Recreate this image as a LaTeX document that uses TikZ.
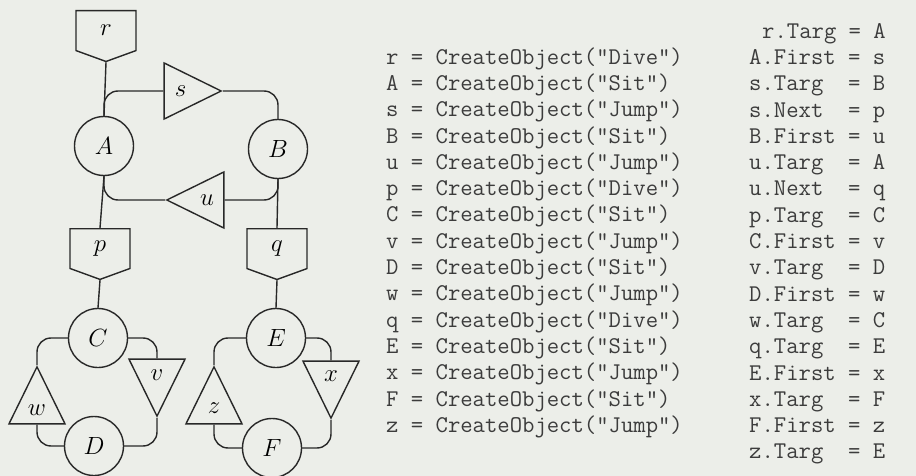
\documentclass[tikz,border=0pt]{standalone}
\usetikzlibrary{shapes.geometric, shapes.symbols}
\definecolor{paper}{RGB}{236,238,233}
\definecolor{ink}{RGB}{40,40,40}
\definecolor{codegray}{RGB}{60,60,60}

\begin{document}
\begin{tikzpicture}[
    x=1pt, y=-1pt,
    every node/.style={font=\fontsize{25}{30}\selectfont},
    obj/.style={circle, draw=ink, line width=1.4pt, minimum size=59pt, inner sep=0pt},
    dive/.style={signal, signal to=south, signal from=nowhere, signal pointer angle=140, draw=ink, line width=1.4pt, minimum width=60pt, minimum height=42pt, inner sep=0pt},
    jump/.style={isosceles triangle, isosceles triangle stretches, draw=ink, line width=1.4pt, minimum width=56pt, minimum height=57pt, inner sep=0pt},
    code/.style={font=\ttfamily\fontsize{24}{28}\selectfont, text=codegray, anchor=mid west, inner sep=0pt},
    link/.style={draw=ink, line width=1.4pt, rounded corners=14pt}
]
\path[use as bounding box, fill=paper] (0,0) rectangle (916,476);

% --- Dive objects ---
\node[dive, anchor=north] (r) at (106,10) {$r$};
\node[dive, anchor=north] (p) at (100,228) {$p$};
\node[dive, anchor=north] (q) at (277,228) {$q$};

% --- Sit objects ---
\node[obj] (A) at (104,146) {$A$};
\node[obj] (B) at (278,149) {$B$};
\node[obj] (C) at (98,338) {$C$};
\node[obj] (D) at (94,446) {$D$};
\node[obj] (E) at (276,338) {$E$};
\node[obj] (F) at (272,448) {$F$};

% --- Jump objects ---
\node[jump, anchor=apex] (s) at (223,91) {$s$};
\node[jump, shape border rotate=180, anchor=apex] (u) at (165,200) {$u$};
\node[jump, shape border rotate=270, anchor=apex] (v) at (157,418) {$v$};
\node[jump, shape border rotate=90, anchor=apex] (w) at (37,365) {$w$};
\node[jump, shape border rotate=90, anchor=apex] (z) at (214,365) {$z$};
\node[jump, shape border rotate=270, anchor=apex] (x) at (331,420) {$x$};

% --- Links ---
\draw[link] (r.south) -- (A.north);
\draw[link] (A.north) |- (s.lower side);
\draw[link] (s.apex) -| (B.north);
\draw[link] (A.south) |- (u.apex);
\draw[link] (u.lower side) -| (B.south);
\draw[link] (A.south) -- (p.north);
\draw[link] (B.south) -- (q.north);
\draw[link] (p.south) -- (C.north);
\draw[link] (q.south) -- (E.north);
\draw[link] (C.east) -| (v.lower side);
\draw[link] (v.apex) |- (D.east);
\draw[link] (D.west) -| (w.lower side);
\draw[link] (w.apex) |- (C.west);
\draw[link] (E.west) -| (z.apex);
\draw[link] (z.lower side) |- (F.west);
\draw[link] (F.east) -| (x.apex);
\draw[link] (E.east) -| (x.lower side);

% --- Code: creation ---
\foreach \name/\kind [count=\i from 0] in {r/Dive, A/Sit, s/Jump, B/Sit, u/Jump, p/Dive, C/Sit, v/Jump, D/Sit, w/Jump, q/Dive, E/Sit, x/Jump, F/Sit, z/Jump}
  \node[code] (make-\name) at (386, 62+26.3*\i) {\name{} = CreateObject("\kind")};

% --- Code: links ---
\node[code] (set-0) at (762,36) {r.Targ = A};
\foreach \field/\val [count=\i] in {A.First/s, s.Targ~/B, s.Next~/p, B.First/u, u.Targ~/A, u.Next~/q, p.Targ~/C, C.First/v, v.Targ~/D, D.First/w, w.Targ~/C, q.Targ~/E, E.First/x, x.Targ~/F, F.First/z, z.Targ~/E}
  \node[code] (set-\i) at (749, 36+26.3*\i) {\field{} = \val};
\end{tikzpicture}
\end{document}
